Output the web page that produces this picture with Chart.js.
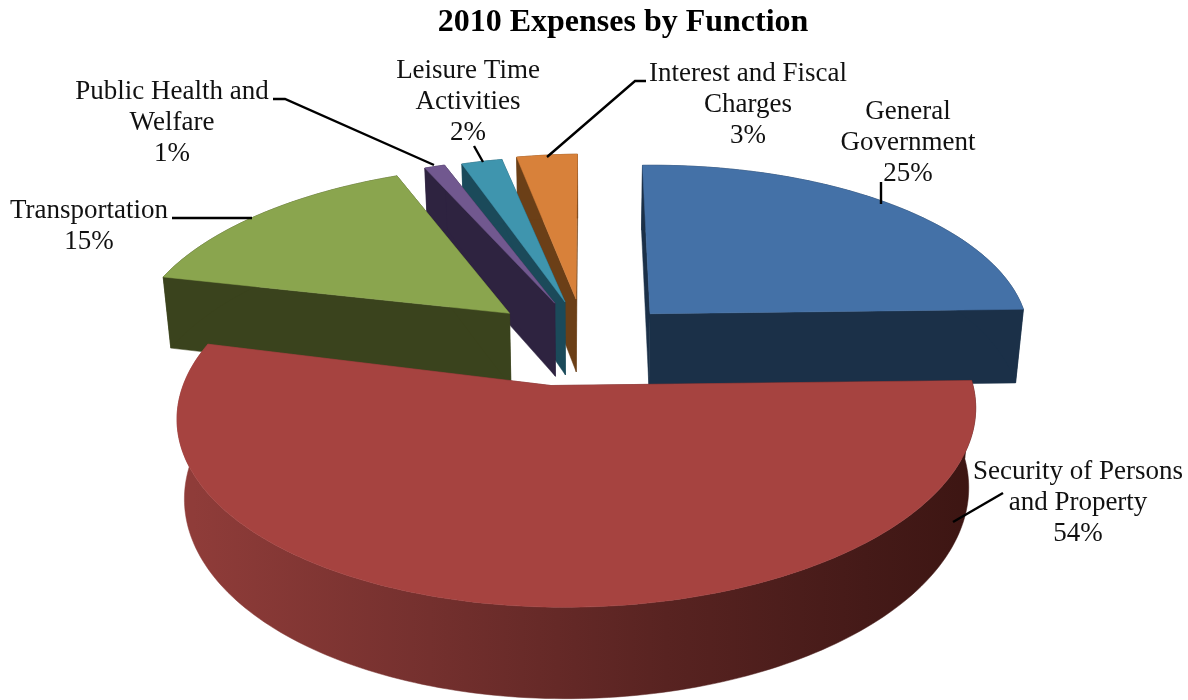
<!DOCTYPE html>
<html>
<head>
<meta charset="utf-8">
<title>2010 Expenses by Function</title>
<script src="https://cdn.jsdelivr.net/npm/chart.js@4"></script>
<style>
  html, body { margin: 0; padding: 0; background: #fff; }
  canvas { display: block; }
</style>
</head>
<body>
<canvas id="pie" width="1188" height="700"></canvas>
<script>
var CATEGORIES = ["General Government", "Security of Persons and Property", "Transportation",
  "Public Health and Welfare", "Leisure Time Activities", "Interest and Fiscal Charges"];
var VALUES = [25, 54, 15, 1, 2, 3];
var EXPLODE = [0.235, 0.23, 0.27, 0.25, 0.25, 0.26];     // fraction of the radius
var SLICE_NUDGE = [0, 0, -0.008, -0.045, -0.015, -0.008]; // sideways nudge of a whole slice
var TIP_SHIFT = [0, -0.065, 0, 0.04, 0.015, 0];          // sideways nudge of a slice's point
var TOP_COLORS = ["#4471a7", "#a64340", "#8aa54e", "#71588f", "#3f95ae", "#d8813a"];
var WALL_COLORS = ["#1b3048", "#4a1c1a", "#3a431d", "#2e2340", "#1b4a5a", "#6b3f17"];

// label wrapping and placement (centre x, first baseline y)
var LABEL_LINES = [["General", "Government"], ["Security of Persons", "and Property"], ["Transportation"],
  ["Public Health and", "Welfare"], ["Leisure Time", "Activities"], ["Interest and Fiscal", "Charges"]];
var LABEL_X = [908, 1078, 89, 172, 468, 748];
var LABEL_Y = [119, 479, 218, 99, 78, 81];
var LINE_STEP = 31;
// leader lines, from the label to the slice
var LEADERS = [
  [[881, 182], [881, 204]],
  [[1003, 493], [953, 522]],
  [[172, 218], [252, 218]],
  [[273, 99], [285, 99], [434, 165]],
  [[474, 146], [483, 162]],
  [[646, 81], [635, 81], [547, 157]]
];

// back to front
var DRAW_ORDER = [0, 5, 4, 3, 2, 1];

// perspective of the tilted disc
var CAM = { shiftX: -35, d0: 1.0335, q: 0.147, horizon: -903, span: 1288, depth: 78, taper: 0.018, roll: 0.012 };

function project(arc, nx, ny, z) {
  var cx = arc.x + CAM.shiftX;
  var d = CAM.d0 - CAM.q * ny;
  var x = cx + nx * arc.outerRadius / d;
  var y = CAM.horizon + CAM.span / d - (x - cx) * CAM.roll;
  if (z) {
    x = cx + (x - cx) * (1 - CAM.taper * z);
    y += CAM.depth * z / d;
  }
  return [x, y];
}

function rimAngles(start, end) {
  var list = [];
  var n = Math.max(2, Math.ceil((end - start) / 0.02));
  for (var i = 0; i <= n; i++) list.push(start + (end - start) * i / n);
  return list;
}

function fillPath(ctx, pts, fill) {
  ctx.beginPath();
  pts.forEach(function (p, i) { if (i) ctx.lineTo(p[0], p[1]); else ctx.moveTo(p[0], p[1]); });
  ctx.closePath();
  ctx.fillStyle = fill;
  ctx.fill();
  ctx.strokeStyle = fill;
  ctx.lineWidth = 0.5;
  ctx.stroke();
}

function drawSlice(ctx, arc, index) {
  var off = arc.options.offset / 100;
  var mid = (arc.startAngle + arc.endAngle) / 2;
  var ax = Math.cos(mid) * off + SLICE_NUDGE[index], ay = Math.sin(mid) * off;
  var angles = rimAngles(arc.startAngle, arc.endAngle);
  var rim = function (z) {
    return angles.map(function (t) { return project(arc, ax + Math.cos(t), ay + Math.sin(t), z); });
  };
  var wall = WALL_COLORS[index];
  if (index === 1) {
    // the long curved side of the biggest slice catches the light on its left
    var g = ctx.createLinearGradient(arc.x + CAM.shiftX - arc.outerRadius, 0, arc.x + CAM.shiftX + arc.outerRadius, 0);
    g.addColorStop(0, "#8f3c39");
    g.addColorStop(0.3, "#74302e");
    g.addColorStop(0.6, "#582321");
    g.addColorStop(0.85, "#451a18");
    g.addColorStop(1, "#3c1512");
    wall = g;
  }
  var tipX = ax + TIP_SHIFT[index];
  var apexTop = project(arc, tipX, ay, 0), apexBottom = project(arc, tipX, ay, 1);
  var top = rim(0), bottom = rim(1);
  fillPath(ctx, [apexTop, top[0], bottom[0], apexBottom], wall);
  fillPath(ctx, [apexTop, top[top.length - 1], bottom[bottom.length - 1], apexBottom], wall);
  fillPath(ctx, top.concat(bottom.slice().reverse()), wall);
  fillPath(ctx, [apexTop].concat(top), TOP_COLORS[index]);
}

var tiltedPie = {
  id: "tiltedPie",
  beforeDatasetDraw: function (chart) {
    var ctx = chart.ctx;
    var arcs = chart.getDatasetMeta(0).data;
    ctx.save();
    DRAW_ORDER.forEach(function (i) { drawSlice(ctx, arcs[i], i); });
    ctx.restore();
    return false;
  },
  afterDraw: function (chart) {
    var ctx = chart.ctx;
    ctx.save();
    ctx.strokeStyle = "#000";
    ctx.lineWidth = 2.4;
    LEADERS.forEach(function (line) {
      ctx.beginPath();
      line.forEach(function (p, i) { if (i) ctx.lineTo(p[0], p[1]); else ctx.moveTo(p[0], p[1]); });
      ctx.stroke();
    });
    ctx.fillStyle = "#111";
    ctx.font = "27px 'Liberation Serif'";
    ctx.textAlign = "center";
    ctx.textBaseline = "alphabetic";
    LABEL_LINES.forEach(function (lines, i) {
      lines.concat(VALUES[i] + "%").forEach(function (text, k) {
        ctx.fillText(text, LABEL_X[i], LABEL_Y[i] + k * LINE_STEP);
      });
    });
    ctx.restore();
  }
};

new Chart(document.getElementById("pie"), {
  type: "pie",
  data: {
    labels: CATEGORIES,
    datasets: [{
      data: VALUES,
      backgroundColor: TOP_COLORS,
      borderWidth: 0,
      offset: function (c) { return EXPLODE[c.dataIndex] * 100; }
    }]
  },
  options: {
    responsive: false,
    animation: false,
    events: [],
    radius: 395,
    layout: { padding: { left: 58 } },
    plugins: {
      legend: { display: false },
      tooltip: { enabled: false },
      title: {
        display: true,
        text: "2010 Expenses by Function",
        color: "#000",
        font: { family: "'Liberation Serif'", size: 32, weight: "bold" },
        padding: { top: 4, bottom: 4 }
      }
    }
  },
  plugins: [tiltedPie]
});
</script>
</body>
</html>
